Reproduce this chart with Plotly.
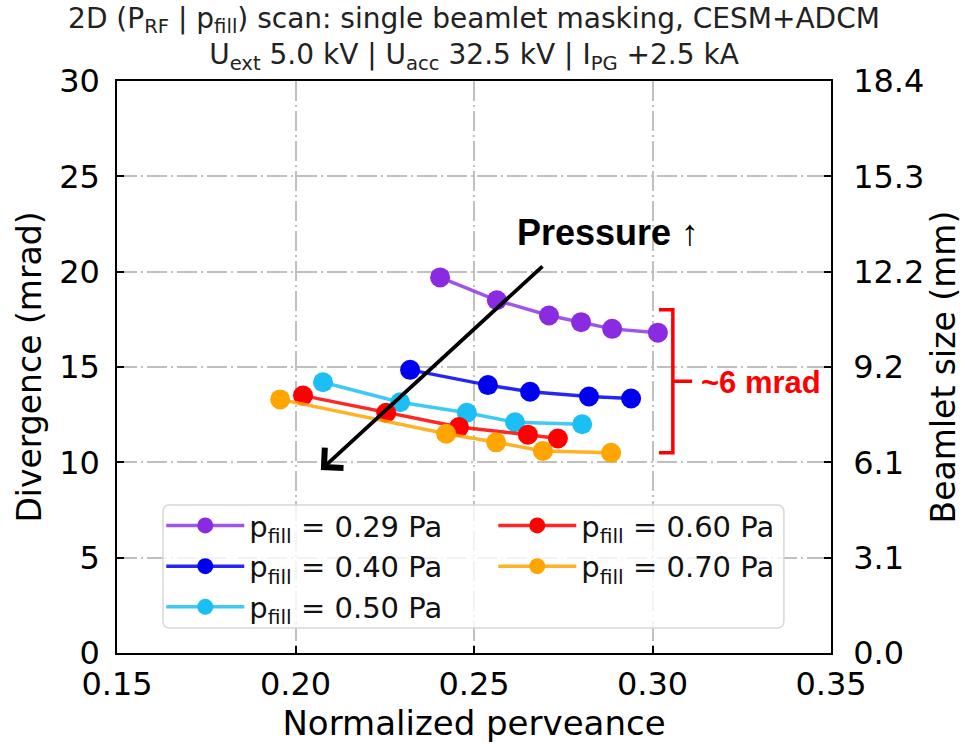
import plotly.graph_objects as go

# Normalized perveance / divergence (mrad) for each filling pressure
perv_029 = [0.2405, 0.2564, 0.2710, 0.2800, 0.2887, 0.3015]
div_029 = [19.7, 18.5, 17.7, 17.35, 17.0, 16.8]
perv_040 = [0.2321, 0.2539, 0.2657, 0.2822, 0.2940]
div_040 = [14.85, 14.05, 13.7, 13.45, 13.35]
perv_050 = [0.2077, 0.2293, 0.2480, 0.2615, 0.2803]
div_050 = [14.2, 13.15, 12.6, 12.1, 12.0]
perv_060 = [0.2021, 0.2254, 0.2458, 0.2651, 0.2735]
div_060 = [13.5, 12.6, 11.85, 11.45, 11.25]
perv_070 = [0.1957, 0.2422, 0.2562, 0.2693, 0.2884]
div_070 = [13.3, 11.5, 11.05, 10.6, 10.5]

pressures = ["0.29", "0.40", "0.50", "0.60", "0.70"]
colors = ["#8a2be2", "#0000f0", "#1cbff4", "#ff0000", "#ffa500"]
line_colors = ["rgba(138,43,226,0.8)", "rgba(0,0,240,0.85)", "rgba(28,191,244,0.85)",
               "rgba(255,0,0,0.85)", "rgba(255,165,0,0.85)"]
legend_rank = [1, 3, 5, 2, 4]  # column-major order in a two-column legend

# Divergence (mrad) -> beamlet size (mm)
mm_per_mrad = 0.6125
div_ticks = [0, 5, 10, 15, 20, 25, 30]
size_tick_labels = ["0.0", "3.1", "6.1", "9.2", "12.2", "15.3", "18.4"]
perv_ticks = [0.15, 0.20, 0.25, 0.30, 0.35]
perv_tick_labels = ["0.15", "0.20", "0.25", "0.30", "0.35"]

series = [(perv_029, div_029), (perv_040, div_040), (perv_050, div_050),
          (perv_060, div_060), (perv_070, div_070)]

FONT = "DejaVu Sans"
fig = go.Figure()

for (px, dv), p, c, lc, rk in zip(series, pressures, colors, line_colors, legend_rank):
    fig.add_trace(go.Scatter(
        x=px, y=dv, mode="lines+markers",
        name=f"p<sub>fill</sub> = {p} Pa",
        line=dict(color=lc, width=3.5),
        marker=dict(color=c, size=20),
        legendrank=rk,
    ))

# carrier trace for the beamlet-size axis
fig.add_trace(go.Scatter(x=[0.15], y=[0], yaxis="y2", mode="markers",
                         marker=dict(opacity=0), showlegend=False, hoverinfo="skip"))

grid = dict(showgrid=True, gridcolor="#c0c0c0", gridwidth=2, griddash="20px,4px,2px,4px")

fig.update_layout(
    width=965, height=744,
    margin=dict(l=117, r=134, t=81, b=91),
    paper_bgcolor="white", plot_bgcolor="white",
    font=dict(family=FONT, color="#111111"),
    title=dict(
        text=("2D (P<sub>RF</sub> | p<sub>fill</sub>) scan: single beamlet masking, CESM+ADCM"
              "<br>U<sub>ext</sub> 5.0 kV | U<sub>acc</sub> 32.5 kV | I<sub>PG</sub> +2.5 kA"),
        x=0.5, xref="paper", xanchor="center",
        y=0.963, yref="container", yanchor="top",
        font=dict(family=FONT, size=28, color="#222222"),
    ),
    xaxis=dict(
        range=[0.15, 0.35], tickvals=perv_ticks, ticktext=perv_tick_labels,
        showline=True, linecolor="black", linewidth=1.5, mirror=True,
        ticks="inside", ticklen=7, tickwidth=1.5, tickcolor="black",
        tickfont=dict(size=32, color="black"), ticklabelstandoff=2,
        zeroline=False,
        title=dict(text="Normalized perveance", font=dict(size=34, color="black"), standoff=2),
        **grid,
    ),
    yaxis=dict(
        range=[0, 30], tickvals=div_ticks,
        showline=True, linecolor="black", linewidth=1.5,
        ticks="inside", ticklen=7, tickwidth=1.5, tickcolor="black",
        tickfont=dict(size=32, color="black"), ticklabelstandoff=9,
        zeroline=False,
        title=dict(text="Divergence (mrad)", font=dict(size=33, color="black"), standoff=8),
        **grid,
    ),
    yaxis2=dict(
        overlaying="y", side="right",
        range=[0, 30 * mm_per_mrad],
        tickvals=[t * mm_per_mrad for t in div_ticks], ticktext=size_tick_labels,
        showline=True, linecolor="black", linewidth=1.5,
        ticks="inside", ticklen=7, tickwidth=1.5, tickcolor="black",
        tickfont=dict(size=32, color="black"), ticklabelstandoff=14,
        showgrid=False, zeroline=False,
        title=dict(text="Beamlet size (mm)", font=dict(size=33, color="black"), standoff=4),
    ),
    legend=dict(
        x=0.062, y=0.2673, xanchor="left", yanchor="top",
        orientation="h", entrywidth=239, itemwidth=78,
        traceorder="normal",
        bgcolor="rgba(0,0,0,0)", borderwidth=0,
        font=dict(family=FONT, size=29, color="#111111"),
    ),
    showlegend=True,
)

# translucent rounded legend frame
x0, x1, y0, y1 = 0.0644, 0.934, 0.0437, 0.2587
rx, ry = 7 / 714, 7 / 572
frame = (f"M {x0+rx},{y0} L {x1-rx},{y0} Q {x1},{y0} {x1},{y0+ry} "
         f"L {x1},{y1-ry} Q {x1},{y1} {x1-rx},{y1} L {x0+rx},{y1} "
         f"Q {x0},{y1} {x0},{y1-ry} L {x0},{y0+ry} Q {x0},{y0} {x0+rx},{y0} Z")
fig.add_shape(type="path", xref="paper", yref="paper", path=frame,
              fillcolor="rgba(255,255,255,0.8)", line=dict(color="#d8d8d8", width=1.5),
              layer="above")

# pressure trend arrow
fig.add_annotation(
    x=0.2071, y=9.6, ax=0.2696, ay=20.35,
    xref="x", yref="y", axref="x", ayref="y",
    text="", showarrow=True, arrowhead=4, arrowsize=1.4,
    arrowwidth=3.8, arrowcolor="black",
)
fig.add_annotation(
    x=0.2875, y=22.05, xref="x", yref="y", text="<b>Pressure</b> ↑",
    showarrow=False, font=dict(family="Liberation Sans", size=36, color="black"),
)

# spread bracket between lowest and highest pressure
fig.add_shape(
    type="path", xref="x", yref="y",
    path="M 0.3018,18.0 L 0.3057,18.0 L 0.3057,10.5 L 0.3018,10.5 M 0.3057,14.25 L 0.3111,14.25",
    line=dict(color="#ff0000", width=3.5),
)
fig.add_annotation(
    x=0.3131, y=14.2, xref="x", yref="y", xanchor="left",
    text="<b>~6 mrad</b>", showarrow=False,
    font=dict(family="Liberation Sans", size=31, color="#ff0000"),
)

fig.write_html("out.html")
